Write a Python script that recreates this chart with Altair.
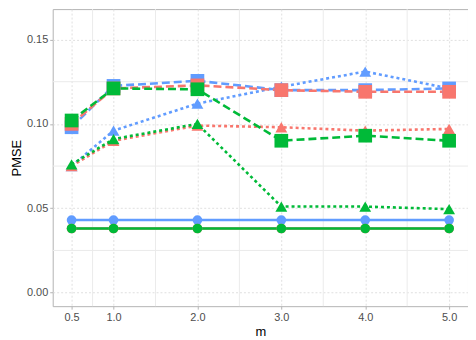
import altair as alt
import pandas as pd

m_vals = [0.5, 1.0, 2.0, 3.0, 4.0, 5.0]

# series: (colour group, line type) -> PMSE values
red_circle = [0.038, 0.038, 0.038, 0.038, 0.038, 0.038]
red_triangle = [0.075, 0.090, 0.099, 0.098, 0.096, 0.097]
red_square = [0.100, 0.121, 0.1228, 0.120, 0.119, 0.119]
green_circle = [0.038, 0.038, 0.038, 0.038, 0.038, 0.038]
green_triangle = [0.076, 0.091, 0.100, 0.051, 0.051, 0.0495]
green_square = [0.102, 0.121, 0.1205, 0.090, 0.093, 0.090]
blue_circle = [0.043, 0.043, 0.043, 0.043, 0.043, 0.043]
blue_triangle = [0.075, 0.096, 0.112, 0.122, 0.131, 0.121]
blue_square = [0.098, 0.1225, 0.1255, 0.120, 0.120, 0.121]

groups = ["A", "B", "C"]
draw_order = ["C", "A", "B"]
types = ["solid", "dotted", "dashed"]
colors = ["#F8766D", "#00BA38", "#619CFF"]
series = {
    ("A", "solid"): red_circle, ("A", "dotted"): red_triangle, ("A", "dashed"): red_square,
    ("B", "solid"): green_circle, ("B", "dotted"): green_triangle, ("B", "dashed"): green_square,
    ("C", "solid"): blue_circle, ("C", "dotted"): blue_triangle, ("C", "dashed"): blue_square,
}

rows = []
order = 0
for g in draw_order:
    for t in types:
        for m, v in zip(m_vals, series[(g, t)]):
            rows.append({"m": m, "PMSE": v, "grp": g, "typ": t, "key": g + t, "ord": order})
        order += 1
df = pd.DataFrame(rows)

x_minor = [0.75, 1.5, 2.5, 3.5, 4.5]
y_minor = [0.025, 0.075, 0.125]

xscale = alt.Scale(domain=[0.275, 5.225], nice=False, zero=False)
yscale = alt.Scale(domain=[-0.008, 0.168], nice=False, zero=False)

color = alt.Color("grp:N", scale=alt.Scale(domain=groups, range=colors), legend=None)

xminor = alt.Chart(pd.DataFrame({"v": x_minor})).mark_rule(color="#ebebeb", strokeWidth=1).encode(
    x=alt.X("v:Q", scale=xscale))
yminor = alt.Chart(pd.DataFrame({"v": y_minor})).mark_rule(color="#ebebeb", strokeWidth=1).encode(
    y=alt.Y("v:Q", scale=yscale))

base = alt.Chart(df)
x_enc = alt.X("m:Q", scale=xscale, title="m",
              axis=alt.Axis(values=m_vals, format=".1f"))
y_enc = alt.Y("PMSE:Q", scale=yscale, title="PMSE",
              axis=alt.Axis(values=[0, 0.05, 0.10, 0.15], format=".2f", titlePadding=3))

lines = base.mark_line(strokeWidth=2.6).encode(
    x=x_enc, y=y_enc, color=color,
    strokeDash=alt.StrokeDash("typ:N", scale=alt.Scale(domain=types, range=[[1, 0], [3, 3], [8, 4]]), legend=None),
    detail="key:N",
)
points = base.mark_point(filled=True, opacity=1).encode(
    x=x_enc, y=y_enc, color=color,
    shape=alt.Shape("typ:N", scale=alt.Scale(domain=types, range=["circle", "triangle-up", "square"]), legend=None),
    size=alt.Size("typ:N", scale=alt.Scale(domain=types, range=[95, 190, 130]), legend=None),
    order=alt.Order("ord:Q"),
)

chart = alt.layer(xminor, yminor, lines, points).properties(
    width=418, height=299,
    autosize=alt.AutoSizeParams(type="none"),
    padding={"left": 45, "top": 0, "right": 0, "bottom": 40},
).configure_view(
    stroke="#b3b3b3", strokeWidth=1
).configure_axis(
    gridColor="#e0e0e0", gridDash=[2, 2], gridWidth=1,
    domain=False, tickColor="#b3b3b3", tickSize=3,
    labelFont="Liberation Sans", labelFontSize=11, labelColor="#4d4d4d",
    titleFont="Liberation Sans", titleFontSize=13, titleFontWeight="normal", titleColor="#000000",
    labelPadding=2,
).configure_axisX(titlePadding=4)

chart.save("out.html", embed_options={"renderer": "svg", "actions": False})
